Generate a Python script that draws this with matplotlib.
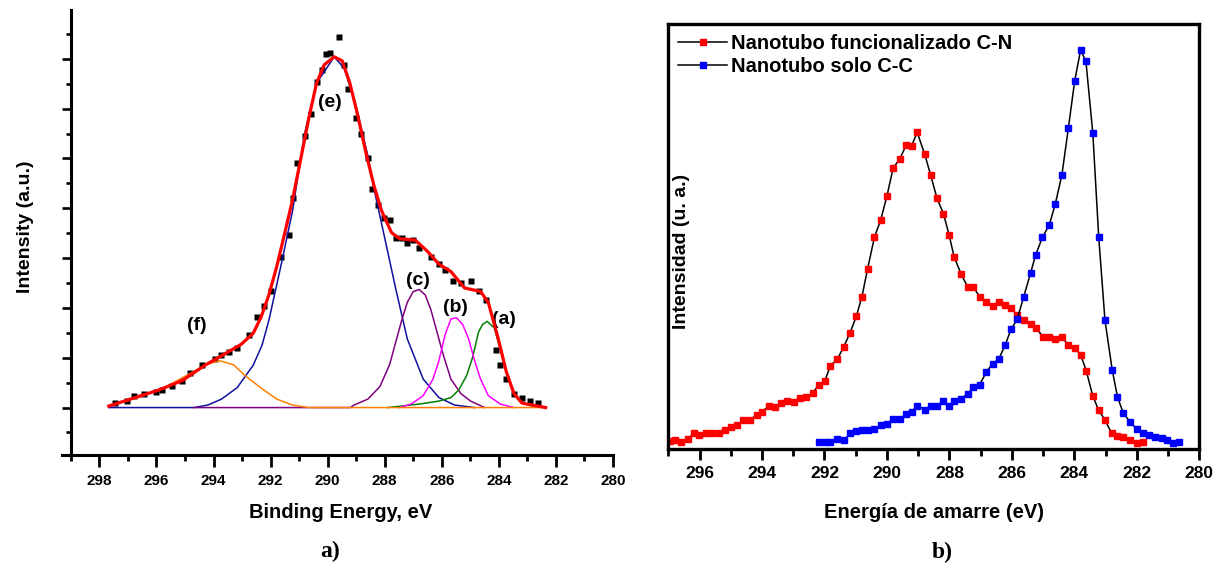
import matplotlib
matplotlib.use('Agg')
import matplotlib.pyplot as plt
from matplotlib.ticker import MultipleLocator, NullFormatter
from matplotlib import font_manager

# ---- panel a) : C1s fit ----
data_ev = [297.46, 297.04, 296.77, 296.42, 296.00, 295.80, 295.45, 295.10, 294.83, 294.41,
           293.96, 293.72, 293.44, 293.17, 292.75, 292.47, 292.22, 291.99, 291.64, 291.36,
           291.23, 291.06, 290.81, 290.60, 290.39, 290.19, 290.05, 289.91, 289.59, 289.42,
           289.28, 289.01, 288.84, 288.59, 288.45, 288.25, 288.04, 287.83, 287.62, 287.41,
           287.21, 287.00, 286.79, 286.38, 286.10, 285.89, 285.61, 285.34, 284.99, 284.71,
           284.44, 284.09, 283.95, 283.74, 283.47, 283.19, 282.91, 282.63]
data_int = [0.09, 0.13, 0.24, 0.28, 0.31, 0.36, 0.44, 0.53, 0.70, 0.86,
            0.97, 1.05, 1.12, 1.19, 1.45, 1.82, 2.04, 2.33, 3.03, 3.47,
            4.20, 4.90, 5.45, 5.89, 6.53, 6.77, 7.10, 7.12, 7.43, 6.88,
            6.40, 5.82, 5.49, 5.01, 4.39, 4.06, 3.80, 3.76, 3.40, 3.40,
            3.30, 3.36, 3.21, 3.03, 2.88, 2.77, 2.55, 2.51, 2.54, 2.33,
            2.15, 1.16, 0.86, 0.57, 0.28, 0.20, 0.13, 0.09]

fit_ev = [297.67, 296.91, 295.93, 295.10, 294.27, 293.72, 293.03, 292.61, 292.33, 292.06,
          291.78, 291.50, 291.23, 290.95, 290.67, 290.39, 290.12, 289.77, 289.49, 289.22,
          288.94, 288.66, 288.38, 288.11, 287.76, 287.48, 286.93, 286.51, 286.10, 285.68,
          285.20, 284.64, 284.37, 284.02, 283.74, 283.47, 283.19, 282.36]
fit_int = [0.03, 0.17, 0.35, 0.54, 0.86, 1.04, 1.27, 1.49, 1.82, 2.26,
           2.84, 3.51, 4.17, 4.97, 5.78, 6.51, 6.88, 7.04, 6.96, 6.51,
           5.85, 5.12, 4.46, 3.95, 3.51, 3.39, 3.36, 3.14, 2.88, 2.73,
           2.40, 2.33, 2.11, 1.38, 0.72, 0.28, 0.09, 0.00]

e_ev = [297.67, 294.69, 294.20, 293.72, 293.17, 292.61, 292.30, 292.06, 291.64, 291.23,
        290.81, 290.39, 289.77, 289.42, 289.01, 288.59, 288.32, 288.04, 287.62, 287.21,
        286.65, 286.10, 285.55, 284.85]
e_int = [0.0, 0.0, 0.05, 0.17, 0.40, 0.85, 1.25, 1.75, 2.84, 3.95,
         5.49, 6.51, 7.04, 6.81, 6.07, 5.05, 4.24, 3.51, 2.40, 1.38,
         0.57, 0.20, 0.05, 0.0]

c_ev = [294.69, 289.20, 289.08, 288.59, 288.17, 287.83, 287.62, 287.41, 287.21, 287.00,
        286.79, 286.58, 286.38, 286.17, 285.96, 285.68, 285.33, 284.99, 284.50]
c_int = [0.0, 0.0, 0.05, 0.17, 0.42, 0.86, 1.30, 1.74, 2.11, 2.33,
         2.37, 2.26, 1.96, 1.52, 1.08, 0.57, 0.28, 0.13, 0.0]

b_ev = [287.48, 287.07, 286.65, 286.31, 286.10, 285.89, 285.68, 285.48, 285.27, 285.06,
        284.85, 284.64, 284.37, 283.95, 283.47]
b_int = [0.0, 0.07, 0.24, 0.57, 0.94, 1.45, 1.78, 1.80, 1.67, 1.38,
         0.94, 0.57, 0.24, 0.07, 0.0]

a_ev = [287.90, 286.79, 286.10, 285.68, 285.41, 285.13, 284.92, 284.71, 284.57, 284.41,
        284.16, 283.95, 283.74, 283.53, 283.26, 282.91, 282.36]
a_int = [0.0, 0.07, 0.13, 0.20, 0.35, 0.64, 1.01, 1.52, 1.67, 1.73,
         1.60, 1.16, 0.72, 0.35, 0.13, 0.04, 0.0]

f_ev = [297.67, 296.63, 295.66, 294.83, 294.27, 293.79, 293.30, 292.89, 292.33, 291.78,
        291.23, 290.67, 282.36]
f_int = [0.04, 0.20, 0.42, 0.68, 0.86, 0.94, 0.86, 0.64, 0.39, 0.17,
         0.05, 0.0, 0.0]

# peak labels: (text, eV, intensity)
peak_labels = [('(e)', 289.91, 6.13), ('(f)', 294.59, 1.65), ('(c)', 286.83, 2.55),
               ('(b)', 285.52, 2.01), ('(a)', 283.81, 1.76)]

# ---- panel b) : C-N vs C-C ----
cn_ev = [296.95, 296.77, 296.58, 296.36, 296.19, 296.02, 295.79, 295.60, 295.38, 295.18,
         294.99, 294.81, 294.60, 294.40, 294.17, 293.99, 293.77, 293.57, 293.40, 293.19,
         292.99, 292.79, 292.58, 292.38, 292.18, 291.99, 291.81, 291.59, 291.38, 291.18,
         290.98, 290.80, 290.62, 290.40, 290.20, 290.00, 289.80, 289.59, 289.38, 289.21,
         289.03, 288.79, 288.60, 288.40, 288.19, 288.01, 287.85, 287.62, 287.42, 287.23,
         287.03, 286.82, 286.62, 286.42, 286.22, 286.03, 285.83, 285.62, 285.40, 285.22,
         285.01, 284.80, 284.61, 284.40, 284.19, 283.99, 283.80, 283.62, 283.41, 283.22,
         283.02, 282.81, 282.62, 282.43, 282.22, 282.01, 281.81]
cn_int = [1.85, 2.28, 1.68, 2.54, 3.74, 3.40, 3.91, 3.91, 3.74, 4.60,
          5.28, 5.63, 6.83, 6.83, 8.12, 8.89, 10.26, 10.01, 10.86, 11.29,
          11.12, 12.15, 12.32, 13.27, 15.16, 16.02, 19.71, 21.17, 24.17, 27.44,
          31.30, 35.94, 42.46, 49.93, 53.97, 59.63, 66.24, 68.31, 71.65, 71.48,
          74.57, 69.42, 64.53, 59.12, 55.43, 50.45, 45.29, 41.17, 38.26, 38.08,
          35.94, 34.65, 33.79, 34.73, 33.96, 33.19, 31.64, 30.53, 29.50, 28.55,
          26.49, 26.49, 26.06, 26.49, 24.43, 23.74, 22.28, 18.51, 12.58, 9.15,
          6.92, 3.83, 3.14, 2.80, 2.19, 1.51, 1.77]

cc_ev = [292.18, 291.99, 291.81, 291.59, 291.38, 291.18, 290.98, 290.80, 290.62, 290.40,
         290.20, 290.00, 289.80, 289.59, 289.38, 289.21, 289.03, 288.79, 288.60, 288.40,
         288.19, 288.01, 287.85, 287.62, 287.42, 287.23, 287.03, 286.82, 286.62, 286.42,
         286.22, 286.03, 285.83, 285.62, 285.40, 285.24, 285.02, 284.80, 284.61, 284.40,
         284.19, 283.99, 283.80, 283.63, 283.41, 283.22, 283.02, 282.79, 282.62, 282.43,
         282.22, 282.01, 281.81, 281.62, 281.42, 281.21, 281.03, 280.84, 280.64]
cc_int = [1.68, 1.68, 1.77, 2.45, 2.11, 3.74, 4.25, 4.43, 4.60, 4.86,
          5.63, 5.97, 7.17, 7.17, 8.29, 8.89, 10.26, 9.32, 10.26, 10.26,
          11.29, 10.26, 11.29, 11.90, 13.10, 14.56, 15.24, 18.16, 20.14, 21.25,
          24.43, 28.21, 30.61, 35.94, 41.52, 45.73, 49.93, 52.85, 57.75, 64.53,
          75.69, 86.68, 93.98, 91.32, 74.49, 49.93, 30.36, 18.77, 12.32, 8.46,
          6.49, 4.77, 3.74, 3.40, 2.88, 2.71, 2.28, 1.42, 1.68]

installed = {f.name for f in font_manager.fontManager.ttflist}
narrow = [n for n in ['Liberation Sans Narrow', 'Liberation Sans', 'DejaVu Sans'] if n in installed]
plain = [n for n in ['Liberation Sans', 'DejaVu Sans'] if n in installed]
serif = [n for n in ['Liberation Serif', 'DejaVu Serif'] if n in installed]

plt.rcParams['font.family'] = plain
plt.rcParams['font.weight'] = 'bold'

W, H = 1221, 572
fig = plt.figure(figsize=(W / 100, H / 100), dpi=100)

# ---------- left panel ----------
ax1 = fig.add_axes([61.7 / W, 1 - 455 / H, 551.3 / W, 445 / H])
ax1.plot(data_ev, data_int, 's', color='black', ms=3.9, mec='none', zorder=1)
ax1.plot(e_ev, e_int, color='#1010a0', lw=1.1, zorder=2)
ax1.plot(c_ev, c_int, color='#800080', lw=1.1, zorder=3)
ax1.plot(a_ev, a_int, color='#008000', lw=1.1, zorder=3)
ax1.plot(b_ev, b_int, color='#ff00ff', lw=1.1, zorder=3)
ax1.plot(f_ev, f_int, color='#ff8000', lw=1.1, zorder=4)
ax1.plot(fit_ev, fit_int, color='#ff0000', lw=2.3, zorder=5)
for txt, xv, yv in peak_labels:
    ax1.text(xv, yv, txt, ha='center', va='center', fontsize=14,
             fontweight='bold', family=narrow)

ax1.set_xlim(299.32, 280)
ax1.set_ylim(-0.952, 7.98)
ax1.spines['top'].set_visible(False)
ax1.spines['right'].set_visible(False)
ax1.spines['left'].set_position(('data', 299))
for s in ['left', 'bottom']:
    ax1.spines[s].set_linewidth(2.2)
ax1.xaxis.set_major_locator(MultipleLocator(2))
ax1.xaxis.set_minor_locator(MultipleLocator(1))
ax1.yaxis.set_major_locator(MultipleLocator(1))
ax1.yaxis.set_minor_locator(MultipleLocator(0.5))
ax1.yaxis.set_major_formatter(NullFormatter())
ax1.tick_params(axis='x', which='major', direction='out', length=8.4, width=2.0,
                labelsize=11, pad=5)
ax1.tick_params(axis='x', which='minor', direction='out', length=4.3, width=2.0)
ax1.tick_params(axis='y', which='major', direction='out', length=6.5, width=1.9)
ax1.tick_params(axis='y', which='minor', direction='out', length=3.6, width=1.9)
for lbl in ax1.get_xticklabels():
    lbl.set_fontweight('bold')

fig.text(341 / W, 1 - 513 / H, 'Binding Energy, eV', ha='center', va='center',
         fontsize=14.5, fontweight='bold', family=narrow)
fig.text(25 / W, 1 - 227 / H, 'Intensity (a.u.)', ha='center', va='center',
         rotation=90, fontsize=14, fontweight='bold', family=narrow)
fig.text(330 / W, 1 - 551 / H, 'a)', ha='center', va='center',
         fontsize=17, fontweight='bold', family=serif)

# ---------- right panel ----------
ax2 = fig.add_axes([668.3 / W, 1 - 449.3 / H, 531 / W, 424.9 / H])
ax2.plot(cn_ev, cn_int, '-s', color='black', lw=1.1, ms=4.3, mfc='#ff0000',
         mec='#ff0000', label='Nanotubo funcionalizado C-N')
ax2.plot(cc_ev, cc_int, '-s', color='black', lw=1.1, ms=4.3, mfc='#0000ff',
         mec='#0000ff', label='Nanotubo solo C-C')
ax2.set_xlim(297, 280)
ax2.set_ylim(0, 100)
ax2.set_yticks([])
for s in ax2.spines.values():
    s.set_linewidth(2.4)
ax2.xaxis.set_major_locator(MultipleLocator(2))
ax2.xaxis.set_minor_locator(MultipleLocator(1))
ax2.tick_params(axis='x', which='major', direction='out', length=7.7, width=2.0,
                labelsize=12.5, pad=4)
ax2.tick_params(axis='x', which='minor', direction='out', length=4.8, width=2.0)
for lbl in ax2.get_xticklabels():
    lbl.set_fontweight('bold')

ax2.legend(loc='upper left', bbox_to_anchor=(0.0, 1.0), frameon=False,
           prop={'family': narrow, 'weight': 'bold', 'size': 14.5},
           handlelength=2.4, handletextpad=0.2, labelspacing=0.2,
           borderaxespad=0.3, borderpad=0.2)

fig.text(934 / W, 1 - 512 / H, 'Energía de amarre (eV)', ha='center', va='center',
         fontsize=14.5, fontweight='bold', family=narrow)
fig.text(681 / W, 1 - 251 / H, 'Intensidad (u. a.)', ha='center', va='center',
         rotation=90, fontsize=14, fontweight='bold', family=narrow)
fig.text(942 / W, 1 - 552 / H, 'b)', ha='center', va='center',
         fontsize=17, fontweight='bold', family=serif)

fig.savefig('out.png', dpi=100)
